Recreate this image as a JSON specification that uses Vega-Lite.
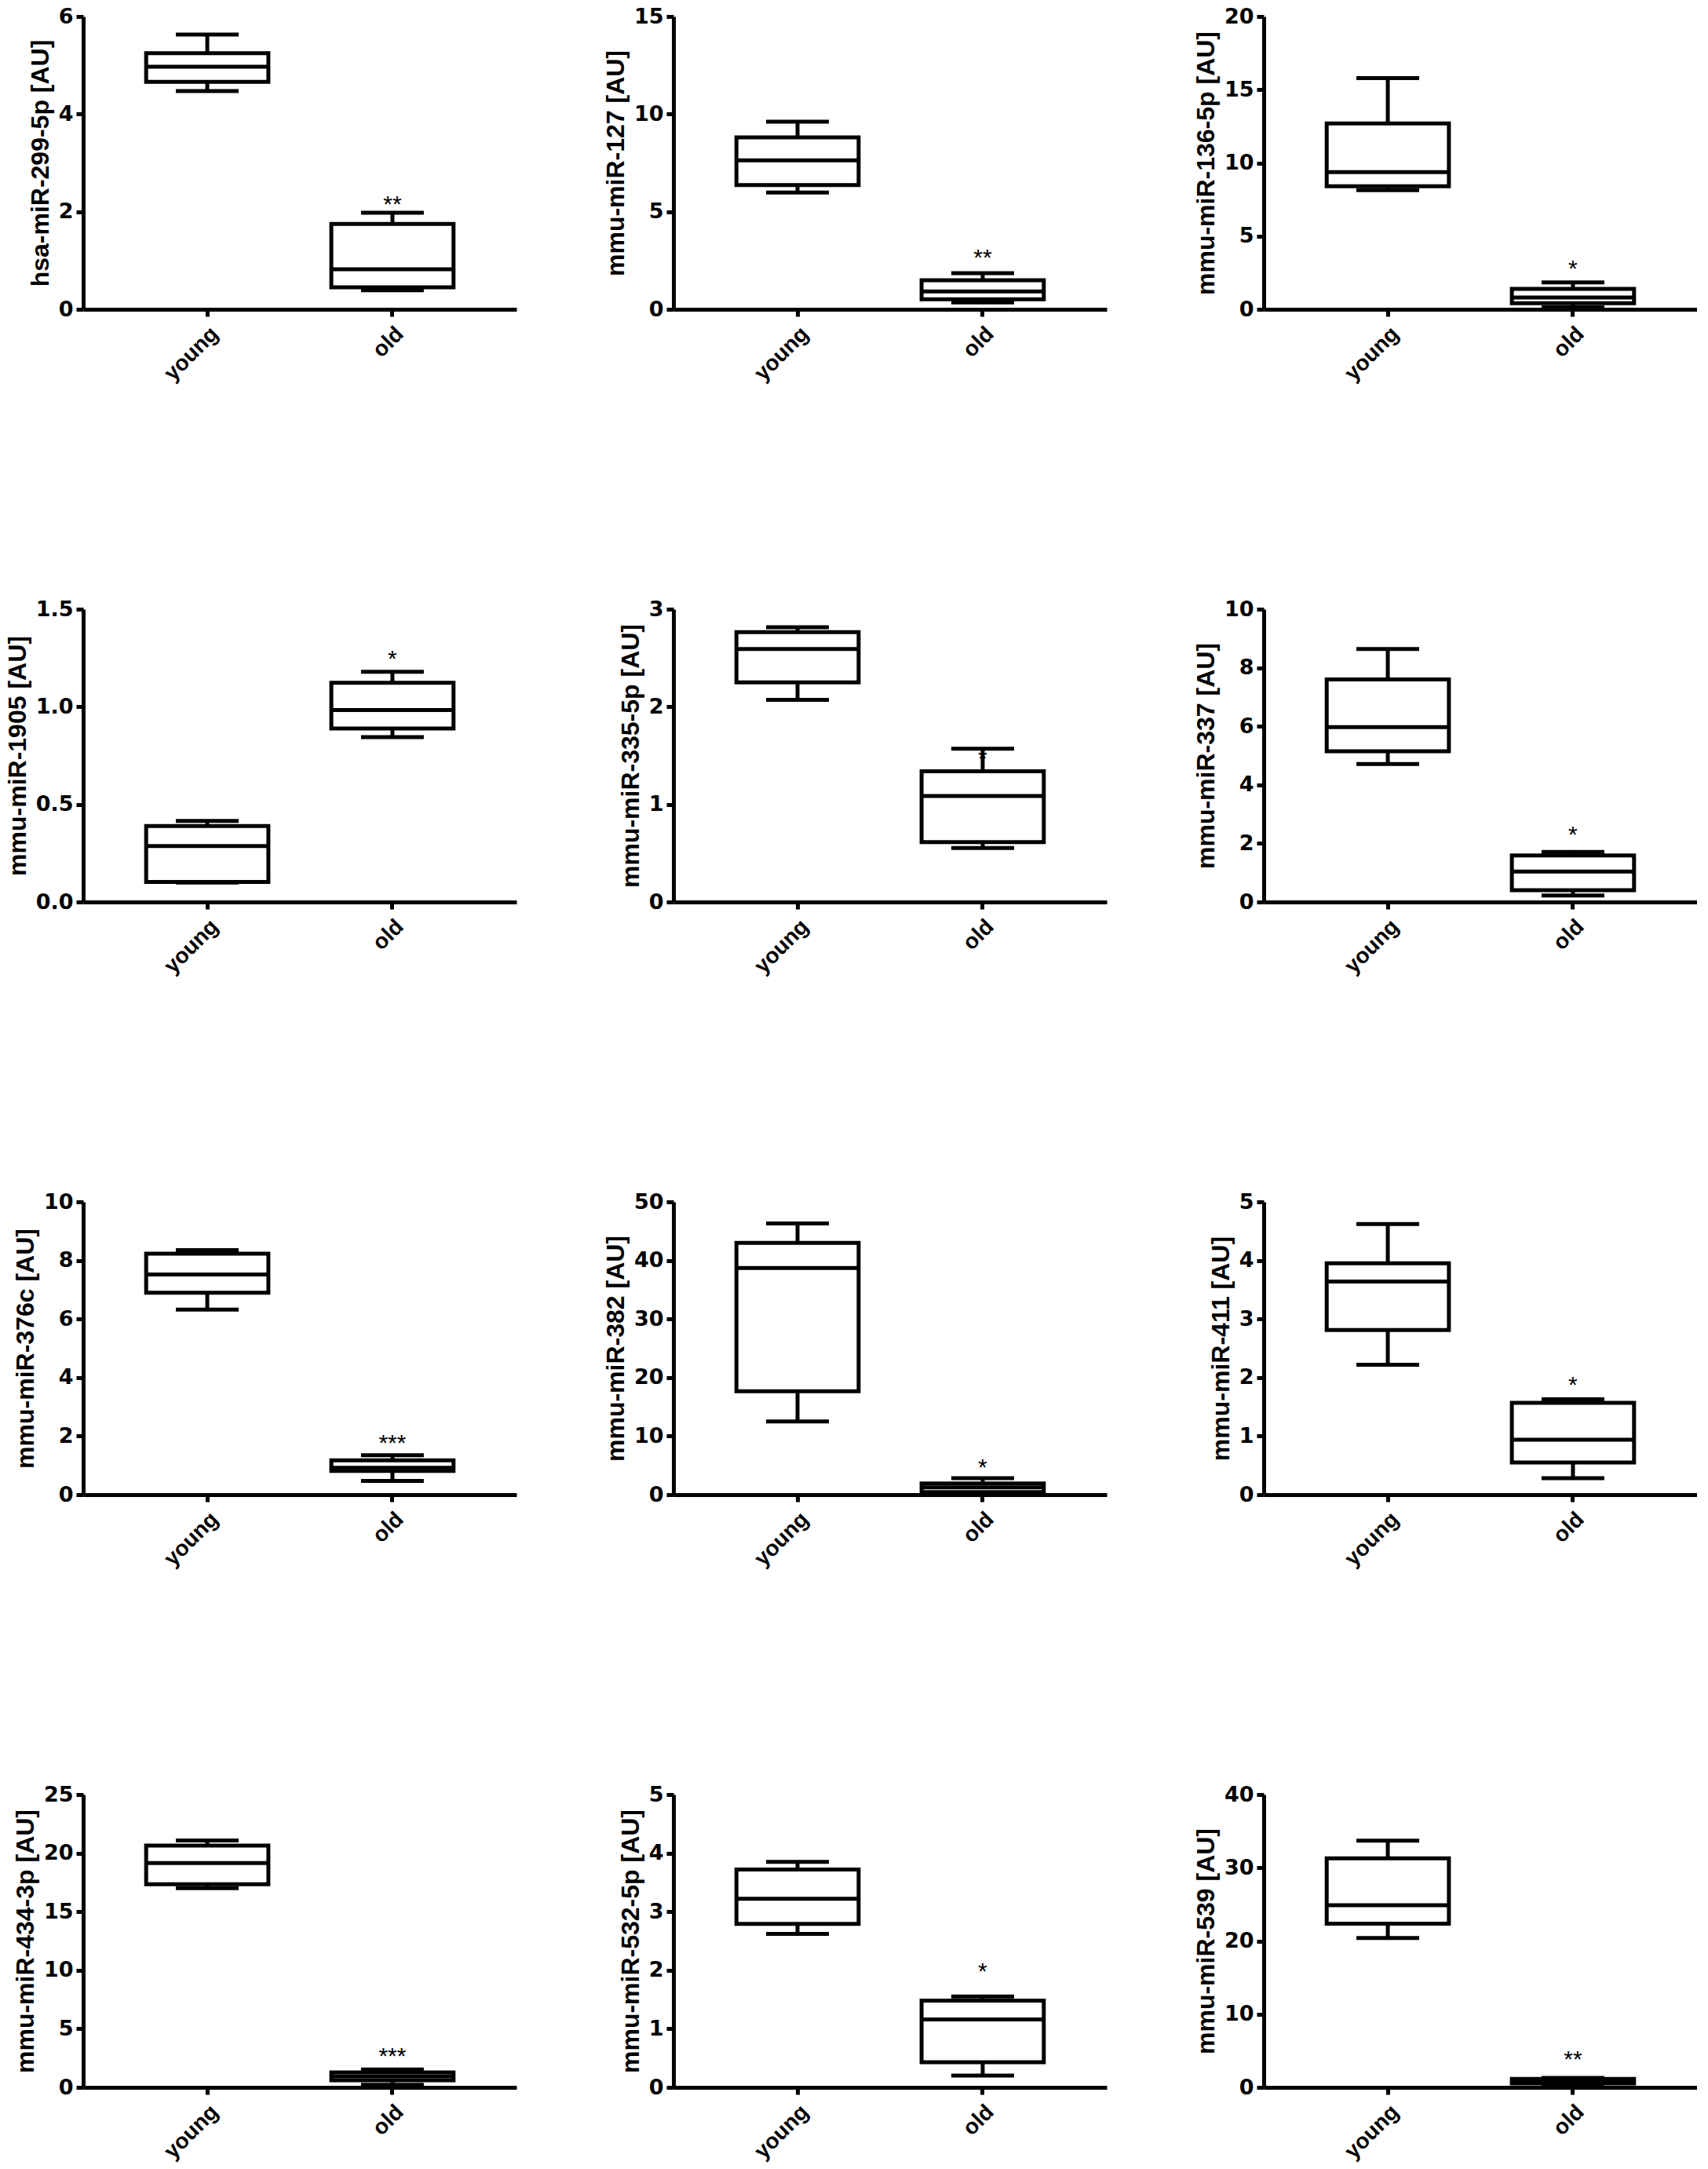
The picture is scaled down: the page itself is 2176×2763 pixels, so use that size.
{
  "$schema": "https://vega.github.io/schema/vega-lite/v6.json",
  "background": "white",
  "padding": {"left": 6, "top": 7, "right": 0, "bottom": 0},
  "data": {"values": [
    {"gene": "hsa-miR-299-5p", "group": "young", "min": 4.47, "q1": 4.66, "median": 4.97, "q3": 5.25, "max": 5.63, "sig": null, "sig_y": null},
    {"gene": "hsa-miR-299-5p", "group": "old", "min": 0.39, "q1": 0.45, "median": 0.82, "q3": 1.75, "max": 1.98, "sig": "**", "sig_y": 2.26},
    {"gene": "mmu-miR-127", "group": "young", "min": 5.98, "q1": 6.36, "median": 7.63, "q3": 8.81, "max": 9.61, "sig": null, "sig_y": null},
    {"gene": "mmu-miR-127", "group": "old", "min": 0.35, "q1": 0.51, "median": 0.91, "q3": 1.49, "max": 1.85, "sig": "**", "sig_y": 2.88},
    {"gene": "mmu-miR-136-5p", "group": "young", "min": 8.14, "q1": 8.40, "median": 9.37, "q3": 12.69, "max": 15.79, "sig": null, "sig_y": null},
    {"gene": "mmu-miR-136-5p", "group": "old", "min": 0.14, "q1": 0.41, "median": 0.80, "q3": 1.39, "max": 1.84, "sig": "*", "sig_y": 3.12},
    {"gene": "mmu-miR-1905", "group": "young", "min": 0.10, "q1": 0.103, "median": 0.287, "q3": 0.389, "max": 0.415, "sig": null, "sig_y": null},
    {"gene": "mmu-miR-1905", "group": "old", "min": 0.845, "q1": 0.889, "median": 0.983, "q3": 1.123, "max": 1.179, "sig": "*", "sig_y": 1.27},
    {"gene": "mmu-miR-335-5p", "group": "young", "min": 2.072, "q1": 2.251, "median": 2.592, "q3": 2.765, "max": 2.816, "sig": null, "sig_y": null},
    {"gene": "mmu-miR-335-5p", "group": "old", "min": 0.552, "q1": 0.613, "median": 1.085, "q3": 1.339, "max": 1.571, "sig": "*", "sig_y": 1.52},
    {"gene": "mmu-miR-337", "group": "young", "min": 4.71, "q1": 5.15, "median": 5.97, "q3": 7.60, "max": 8.64, "sig": null, "sig_y": null},
    {"gene": "mmu-miR-337", "group": "old", "min": 0.22, "q1": 0.40, "median": 1.04, "q3": 1.59, "max": 1.71, "sig": "*", "sig_y": 2.46},
    {"gene": "mmu-miR-376c", "group": "young", "min": 6.32, "q1": 6.90, "median": 7.52, "q3": 8.23, "max": 8.35, "sig": null, "sig_y": null},
    {"gene": "mmu-miR-376c", "group": "old", "min": 0.47, "q1": 0.81, "median": 0.92, "q3": 1.17, "max": 1.35, "sig": "***", "sig_y": 1.92},
    {"gene": "mmu-miR-382", "group": "young", "min": 12.49, "q1": 17.66, "median": 38.7, "q3": 43.0, "max": 46.3, "sig": null, "sig_y": null},
    {"gene": "mmu-miR-382", "group": "old", "min": 0.13, "q1": 0.45, "median": 1.25, "q3": 1.92, "max": 2.81, "sig": "*", "sig_y": 5.49},
    {"gene": "mmu-miR-411", "group": "young", "min": 2.22, "q1": 2.81, "median": 3.64, "q3": 3.95, "max": 4.62, "sig": null, "sig_y": null},
    {"gene": "mmu-miR-411", "group": "old", "min": 0.28, "q1": 0.55, "median": 0.94, "q3": 1.57, "max": 1.63, "sig": "*", "sig_y": 1.96},
    {"gene": "mmu-miR-434-3p", "group": "young", "min": 17.0, "q1": 17.34, "median": 19.16, "q3": 20.65, "max": 21.08, "sig": null, "sig_y": null},
    {"gene": "mmu-miR-434-3p", "group": "old", "min": 0.22, "q1": 0.60, "median": 0.94, "q3": 1.27, "max": 1.52, "sig": "***", "sig_y": 3.07},
    {"gene": "mmu-miR-532-5p", "group": "young", "min": 2.62, "q1": 2.79, "median": 3.22, "q3": 3.72, "max": 3.85, "sig": null, "sig_y": null},
    {"gene": "mmu-miR-532-5p", "group": "old", "min": 0.20, "q1": 0.43, "median": 1.16, "q3": 1.48, "max": 1.55, "sig": "*", "sig_y": 2.06},
    {"gene": "mmu-miR-539", "group": "young", "min": 20.39, "q1": 22.35, "median": 24.88, "q3": 31.30, "max": 33.69, "sig": null, "sig_y": null},
    {"gene": "mmu-miR-539", "group": "old", "min": 0.18, "q1": 0.53, "median": 0.71, "q3": 1.14, "max": 1.30, "sig": "**", "sig_y": 4.46}
  ]},
  "spacing": 271,
  "vconcat": [
    {"spacing": 200, "bounds": "flush", "hconcat": [
      {"width": 552, "height": 373, "transform": [{"filter": "datum.gene === 'hsa-miR-299-5p'"}],
       "encoding": {"x": {"field": "group", "type": "nominal", "sort": ["young", "old"], "scale": {"paddingInner": 0.34, "paddingOuter": 0.34}, "title": null}},
       "layer": [
        {"mark": {"type": "rule", "color": "black", "strokeWidth": 5}, "encoding": {"y": {"field": "min", "type": "quantitative", "scale": {"domain": [0, 6], "nice": false}, "axis": {"values": [0, 2, 4, 6], "format": "d"}, "title": "hsa-miR-299-5p [AU]"}, "y2": {"field": "max"}}},
        {"mark": {"type": "bar", "fill": "white", "stroke": "black", "strokeWidth": 5}, "encoding": {"y": {"field": "q1", "type": "quantitative"}, "y2": {"field": "q3"}}},
        {"mark": {"type": "tick", "color": "black", "opacity": 1, "thickness": 5, "size": 156}, "encoding": {"y": {"field": "median", "type": "quantitative"}}},
        {"mark": {"type": "tick", "color": "black", "opacity": 1, "thickness": 5, "size": 80}, "encoding": {"y": {"field": "min", "type": "quantitative"}}},
        {"mark": {"type": "tick", "color": "black", "opacity": 1, "thickness": 5, "size": 80}, "encoding": {"y": {"field": "max", "type": "quantitative"}}},
        {"transform": [{"filter": "datum.sig != null"}], "mark": {"type": "text", "color": "black", "fontSize": 30, "font": "Liberation Sans", "baseline": "middle", "dy": 7}, "encoding": {"y": {"field": "sig_y", "type": "quantitative"}, "text": {"field": "sig"}}}
       ]},
      {"width": 552, "height": 373, "transform": [{"filter": "datum.gene === 'mmu-miR-127'"}],
       "encoding": {"x": {"field": "group", "type": "nominal", "sort": ["young", "old"], "scale": {"paddingInner": 0.34, "paddingOuter": 0.34}, "title": null}},
       "layer": [
        {"mark": {"type": "rule", "color": "black", "strokeWidth": 5}, "encoding": {"y": {"field": "min", "type": "quantitative", "scale": {"domain": [0, 15], "nice": false}, "axis": {"values": [0, 5, 10, 15], "format": "d"}, "title": "mmu-miR-127 [AU]"}, "y2": {"field": "max"}}},
        {"mark": {"type": "bar", "fill": "white", "stroke": "black", "strokeWidth": 5}, "encoding": {"y": {"field": "q1", "type": "quantitative"}, "y2": {"field": "q3"}}},
        {"mark": {"type": "tick", "color": "black", "opacity": 1, "thickness": 5, "size": 156}, "encoding": {"y": {"field": "median", "type": "quantitative"}}},
        {"mark": {"type": "tick", "color": "black", "opacity": 1, "thickness": 5, "size": 80}, "encoding": {"y": {"field": "min", "type": "quantitative"}}},
        {"mark": {"type": "tick", "color": "black", "opacity": 1, "thickness": 5, "size": 80}, "encoding": {"y": {"field": "max", "type": "quantitative"}}},
        {"transform": [{"filter": "datum.sig != null"}], "mark": {"type": "text", "color": "black", "fontSize": 30, "font": "Liberation Sans", "baseline": "middle", "dy": 7}, "encoding": {"y": {"field": "sig_y", "type": "quantitative"}, "text": {"field": "sig"}}}
       ]},
      {"width": 552, "height": 373, "transform": [{"filter": "datum.gene === 'mmu-miR-136-5p'"}],
       "encoding": {"x": {"field": "group", "type": "nominal", "sort": ["young", "old"], "scale": {"paddingInner": 0.34, "paddingOuter": 0.34}, "title": null}},
       "layer": [
        {"mark": {"type": "rule", "color": "black", "strokeWidth": 5}, "encoding": {"y": {"field": "min", "type": "quantitative", "scale": {"domain": [0, 20], "nice": false}, "axis": {"values": [0, 5, 10, 15, 20], "format": "d"}, "title": "mmu-miR-136-5p [AU]"}, "y2": {"field": "max"}}},
        {"mark": {"type": "bar", "fill": "white", "stroke": "black", "strokeWidth": 5}, "encoding": {"y": {"field": "q1", "type": "quantitative"}, "y2": {"field": "q3"}}},
        {"mark": {"type": "tick", "color": "black", "opacity": 1, "thickness": 5, "size": 156}, "encoding": {"y": {"field": "median", "type": "quantitative"}}},
        {"mark": {"type": "tick", "color": "black", "opacity": 1, "thickness": 5, "size": 80}, "encoding": {"y": {"field": "min", "type": "quantitative"}}},
        {"mark": {"type": "tick", "color": "black", "opacity": 1, "thickness": 5, "size": 80}, "encoding": {"y": {"field": "max", "type": "quantitative"}}},
        {"transform": [{"filter": "datum.sig != null"}], "mark": {"type": "text", "color": "black", "fontSize": 30, "font": "Liberation Sans", "baseline": "middle", "dy": 7}, "encoding": {"y": {"field": "sig_y", "type": "quantitative"}, "text": {"field": "sig"}}}
       ]}
    ]},
    {"spacing": 200, "bounds": "flush", "hconcat": [
      {"width": 552, "height": 373, "transform": [{"filter": "datum.gene === 'mmu-miR-1905'"}],
       "encoding": {"x": {"field": "group", "type": "nominal", "sort": ["young", "old"], "scale": {"paddingInner": 0.34, "paddingOuter": 0.34}, "title": null}},
       "layer": [
        {"mark": {"type": "rule", "color": "black", "strokeWidth": 5}, "encoding": {"y": {"field": "min", "type": "quantitative", "scale": {"domain": [0, 1.5], "nice": false}, "axis": {"values": [0, 0.5, 1, 1.5], "format": ".1f"}, "title": "mmu-miR-1905 [AU]"}, "y2": {"field": "max"}}},
        {"mark": {"type": "bar", "fill": "white", "stroke": "black", "strokeWidth": 5}, "encoding": {"y": {"field": "q1", "type": "quantitative"}, "y2": {"field": "q3"}}},
        {"mark": {"type": "tick", "color": "black", "opacity": 1, "thickness": 5, "size": 156}, "encoding": {"y": {"field": "median", "type": "quantitative"}}},
        {"mark": {"type": "tick", "color": "black", "opacity": 1, "thickness": 5, "size": 80}, "encoding": {"y": {"field": "min", "type": "quantitative"}}},
        {"mark": {"type": "tick", "color": "black", "opacity": 1, "thickness": 5, "size": 80}, "encoding": {"y": {"field": "max", "type": "quantitative"}}},
        {"transform": [{"filter": "datum.sig != null"}], "mark": {"type": "text", "color": "black", "fontSize": 30, "font": "Liberation Sans", "baseline": "middle", "dy": 7}, "encoding": {"y": {"field": "sig_y", "type": "quantitative"}, "text": {"field": "sig"}}}
       ]},
      {"width": 552, "height": 373, "transform": [{"filter": "datum.gene === 'mmu-miR-335-5p'"}],
       "encoding": {"x": {"field": "group", "type": "nominal", "sort": ["young", "old"], "scale": {"paddingInner": 0.34, "paddingOuter": 0.34}, "title": null}},
       "layer": [
        {"mark": {"type": "rule", "color": "black", "strokeWidth": 5}, "encoding": {"y": {"field": "min", "type": "quantitative", "scale": {"domain": [0, 3], "nice": false}, "axis": {"values": [0, 1, 2, 3], "format": "d"}, "title": "mmu-miR-335-5p [AU]"}, "y2": {"field": "max"}}},
        {"mark": {"type": "bar", "fill": "white", "stroke": "black", "strokeWidth": 5}, "encoding": {"y": {"field": "q1", "type": "quantitative"}, "y2": {"field": "q3"}}},
        {"mark": {"type": "tick", "color": "black", "opacity": 1, "thickness": 5, "size": 156}, "encoding": {"y": {"field": "median", "type": "quantitative"}}},
        {"mark": {"type": "tick", "color": "black", "opacity": 1, "thickness": 5, "size": 80}, "encoding": {"y": {"field": "min", "type": "quantitative"}}},
        {"mark": {"type": "tick", "color": "black", "opacity": 1, "thickness": 5, "size": 80}, "encoding": {"y": {"field": "max", "type": "quantitative"}}},
        {"transform": [{"filter": "datum.sig != null"}], "mark": {"type": "text", "color": "black", "fontSize": 30, "font": "Liberation Sans", "baseline": "middle", "dy": 7}, "encoding": {"y": {"field": "sig_y", "type": "quantitative"}, "text": {"field": "sig"}}}
       ]},
      {"width": 552, "height": 373, "transform": [{"filter": "datum.gene === 'mmu-miR-337'"}],
       "encoding": {"x": {"field": "group", "type": "nominal", "sort": ["young", "old"], "scale": {"paddingInner": 0.34, "paddingOuter": 0.34}, "title": null}},
       "layer": [
        {"mark": {"type": "rule", "color": "black", "strokeWidth": 5}, "encoding": {"y": {"field": "min", "type": "quantitative", "scale": {"domain": [0, 10], "nice": false}, "axis": {"values": [0, 2, 4, 6, 8, 10], "format": "d"}, "title": "mmu-miR-337 [AU]"}, "y2": {"field": "max"}}},
        {"mark": {"type": "bar", "fill": "white", "stroke": "black", "strokeWidth": 5}, "encoding": {"y": {"field": "q1", "type": "quantitative"}, "y2": {"field": "q3"}}},
        {"mark": {"type": "tick", "color": "black", "opacity": 1, "thickness": 5, "size": 156}, "encoding": {"y": {"field": "median", "type": "quantitative"}}},
        {"mark": {"type": "tick", "color": "black", "opacity": 1, "thickness": 5, "size": 80}, "encoding": {"y": {"field": "min", "type": "quantitative"}}},
        {"mark": {"type": "tick", "color": "black", "opacity": 1, "thickness": 5, "size": 80}, "encoding": {"y": {"field": "max", "type": "quantitative"}}},
        {"transform": [{"filter": "datum.sig != null"}], "mark": {"type": "text", "color": "black", "fontSize": 30, "font": "Liberation Sans", "baseline": "middle", "dy": 7}, "encoding": {"y": {"field": "sig_y", "type": "quantitative"}, "text": {"field": "sig"}}}
       ]}
    ]},
    {"spacing": 200, "bounds": "flush", "hconcat": [
      {"width": 552, "height": 373, "transform": [{"filter": "datum.gene === 'mmu-miR-376c'"}],
       "encoding": {"x": {"field": "group", "type": "nominal", "sort": ["young", "old"], "scale": {"paddingInner": 0.34, "paddingOuter": 0.34}, "title": null}},
       "layer": [
        {"mark": {"type": "rule", "color": "black", "strokeWidth": 5}, "encoding": {"y": {"field": "min", "type": "quantitative", "scale": {"domain": [0, 10], "nice": false}, "axis": {"values": [0, 2, 4, 6, 8, 10], "format": "d"}, "title": "mmu-miR-376c [AU]"}, "y2": {"field": "max"}}},
        {"mark": {"type": "bar", "fill": "white", "stroke": "black", "strokeWidth": 5}, "encoding": {"y": {"field": "q1", "type": "quantitative"}, "y2": {"field": "q3"}}},
        {"mark": {"type": "tick", "color": "black", "opacity": 1, "thickness": 5, "size": 156}, "encoding": {"y": {"field": "median", "type": "quantitative"}}},
        {"mark": {"type": "tick", "color": "black", "opacity": 1, "thickness": 5, "size": 80}, "encoding": {"y": {"field": "min", "type": "quantitative"}}},
        {"mark": {"type": "tick", "color": "black", "opacity": 1, "thickness": 5, "size": 80}, "encoding": {"y": {"field": "max", "type": "quantitative"}}},
        {"transform": [{"filter": "datum.sig != null"}], "mark": {"type": "text", "color": "black", "fontSize": 30, "font": "Liberation Sans", "baseline": "middle", "dy": 7}, "encoding": {"y": {"field": "sig_y", "type": "quantitative"}, "text": {"field": "sig"}}}
       ]},
      {"width": 552, "height": 373, "transform": [{"filter": "datum.gene === 'mmu-miR-382'"}],
       "encoding": {"x": {"field": "group", "type": "nominal", "sort": ["young", "old"], "scale": {"paddingInner": 0.34, "paddingOuter": 0.34}, "title": null}},
       "layer": [
        {"mark": {"type": "rule", "color": "black", "strokeWidth": 5}, "encoding": {"y": {"field": "min", "type": "quantitative", "scale": {"domain": [0, 50], "nice": false}, "axis": {"values": [0, 10, 20, 30, 40, 50], "format": "d"}, "title": "mmu-miR-382 [AU]"}, "y2": {"field": "max"}}},
        {"mark": {"type": "bar", "fill": "white", "stroke": "black", "strokeWidth": 5}, "encoding": {"y": {"field": "q1", "type": "quantitative"}, "y2": {"field": "q3"}}},
        {"mark": {"type": "tick", "color": "black", "opacity": 1, "thickness": 5, "size": 156}, "encoding": {"y": {"field": "median", "type": "quantitative"}}},
        {"mark": {"type": "tick", "color": "black", "opacity": 1, "thickness": 5, "size": 80}, "encoding": {"y": {"field": "min", "type": "quantitative"}}},
        {"mark": {"type": "tick", "color": "black", "opacity": 1, "thickness": 5, "size": 80}, "encoding": {"y": {"field": "max", "type": "quantitative"}}},
        {"transform": [{"filter": "datum.sig != null"}], "mark": {"type": "text", "color": "black", "fontSize": 30, "font": "Liberation Sans", "baseline": "middle", "dy": 7}, "encoding": {"y": {"field": "sig_y", "type": "quantitative"}, "text": {"field": "sig"}}}
       ]},
      {"width": 552, "height": 373, "transform": [{"filter": "datum.gene === 'mmu-miR-411'"}],
       "encoding": {"x": {"field": "group", "type": "nominal", "sort": ["young", "old"], "scale": {"paddingInner": 0.34, "paddingOuter": 0.34}, "title": null}},
       "layer": [
        {"mark": {"type": "rule", "color": "black", "strokeWidth": 5}, "encoding": {"y": {"field": "min", "type": "quantitative", "scale": {"domain": [0, 5], "nice": false}, "axis": {"values": [0, 1, 2, 3, 4, 5], "format": "d"}, "title": "mmu-miR-411 [AU]"}, "y2": {"field": "max"}}},
        {"mark": {"type": "bar", "fill": "white", "stroke": "black", "strokeWidth": 5}, "encoding": {"y": {"field": "q1", "type": "quantitative"}, "y2": {"field": "q3"}}},
        {"mark": {"type": "tick", "color": "black", "opacity": 1, "thickness": 5, "size": 156}, "encoding": {"y": {"field": "median", "type": "quantitative"}}},
        {"mark": {"type": "tick", "color": "black", "opacity": 1, "thickness": 5, "size": 80}, "encoding": {"y": {"field": "min", "type": "quantitative"}}},
        {"mark": {"type": "tick", "color": "black", "opacity": 1, "thickness": 5, "size": 80}, "encoding": {"y": {"field": "max", "type": "quantitative"}}},
        {"transform": [{"filter": "datum.sig != null"}], "mark": {"type": "text", "color": "black", "fontSize": 30, "font": "Liberation Sans", "baseline": "middle", "dy": 7}, "encoding": {"y": {"field": "sig_y", "type": "quantitative"}, "text": {"field": "sig"}}}
       ]}
    ]},
    {"spacing": 200, "bounds": "flush", "hconcat": [
      {"width": 552, "height": 373, "transform": [{"filter": "datum.gene === 'mmu-miR-434-3p'"}],
       "encoding": {"x": {"field": "group", "type": "nominal", "sort": ["young", "old"], "scale": {"paddingInner": 0.34, "paddingOuter": 0.34}, "title": null}},
       "layer": [
        {"mark": {"type": "rule", "color": "black", "strokeWidth": 5}, "encoding": {"y": {"field": "min", "type": "quantitative", "scale": {"domain": [0, 25], "nice": false}, "axis": {"values": [0, 5, 10, 15, 20, 25], "format": "d"}, "title": "mmu-miR-434-3p [AU]"}, "y2": {"field": "max"}}},
        {"mark": {"type": "bar", "fill": "white", "stroke": "black", "strokeWidth": 5}, "encoding": {"y": {"field": "q1", "type": "quantitative"}, "y2": {"field": "q3"}}},
        {"mark": {"type": "tick", "color": "black", "opacity": 1, "thickness": 5, "size": 156}, "encoding": {"y": {"field": "median", "type": "quantitative"}}},
        {"mark": {"type": "tick", "color": "black", "opacity": 1, "thickness": 5, "size": 80}, "encoding": {"y": {"field": "min", "type": "quantitative"}}},
        {"mark": {"type": "tick", "color": "black", "opacity": 1, "thickness": 5, "size": 80}, "encoding": {"y": {"field": "max", "type": "quantitative"}}},
        {"transform": [{"filter": "datum.sig != null"}], "mark": {"type": "text", "color": "black", "fontSize": 30, "font": "Liberation Sans", "baseline": "middle", "dy": 7}, "encoding": {"y": {"field": "sig_y", "type": "quantitative"}, "text": {"field": "sig"}}}
       ]},
      {"width": 552, "height": 373, "transform": [{"filter": "datum.gene === 'mmu-miR-532-5p'"}],
       "encoding": {"x": {"field": "group", "type": "nominal", "sort": ["young", "old"], "scale": {"paddingInner": 0.34, "paddingOuter": 0.34}, "title": null}},
       "layer": [
        {"mark": {"type": "rule", "color": "black", "strokeWidth": 5}, "encoding": {"y": {"field": "min", "type": "quantitative", "scale": {"domain": [0, 5], "nice": false}, "axis": {"values": [0, 1, 2, 3, 4, 5], "format": "d"}, "title": "mmu-miR-532-5p [AU]"}, "y2": {"field": "max"}}},
        {"mark": {"type": "bar", "fill": "white", "stroke": "black", "strokeWidth": 5}, "encoding": {"y": {"field": "q1", "type": "quantitative"}, "y2": {"field": "q3"}}},
        {"mark": {"type": "tick", "color": "black", "opacity": 1, "thickness": 5, "size": 156}, "encoding": {"y": {"field": "median", "type": "quantitative"}}},
        {"mark": {"type": "tick", "color": "black", "opacity": 1, "thickness": 5, "size": 80}, "encoding": {"y": {"field": "min", "type": "quantitative"}}},
        {"mark": {"type": "tick", "color": "black", "opacity": 1, "thickness": 5, "size": 80}, "encoding": {"y": {"field": "max", "type": "quantitative"}}},
        {"transform": [{"filter": "datum.sig != null"}], "mark": {"type": "text", "color": "black", "fontSize": 30, "font": "Liberation Sans", "baseline": "middle", "dy": 7}, "encoding": {"y": {"field": "sig_y", "type": "quantitative"}, "text": {"field": "sig"}}}
       ]},
      {"width": 552, "height": 373, "transform": [{"filter": "datum.gene === 'mmu-miR-539'"}],
       "encoding": {"x": {"field": "group", "type": "nominal", "sort": ["young", "old"], "scale": {"paddingInner": 0.34, "paddingOuter": 0.34}, "title": null}},
       "layer": [
        {"mark": {"type": "rule", "color": "black", "strokeWidth": 5}, "encoding": {"y": {"field": "min", "type": "quantitative", "scale": {"domain": [0, 40], "nice": false}, "axis": {"values": [0, 10, 20, 30, 40], "format": "d"}, "title": "mmu-miR-539 [AU]"}, "y2": {"field": "max"}}},
        {"mark": {"type": "bar", "fill": "white", "stroke": "black", "strokeWidth": 5}, "encoding": {"y": {"field": "q1", "type": "quantitative"}, "y2": {"field": "q3"}}},
        {"mark": {"type": "tick", "color": "black", "opacity": 1, "thickness": 5, "size": 156}, "encoding": {"y": {"field": "median", "type": "quantitative"}}},
        {"mark": {"type": "tick", "color": "black", "opacity": 1, "thickness": 5, "size": 80}, "encoding": {"y": {"field": "min", "type": "quantitative"}}},
        {"mark": {"type": "tick", "color": "black", "opacity": 1, "thickness": 5, "size": 80}, "encoding": {"y": {"field": "max", "type": "quantitative"}}},
        {"transform": [{"filter": "datum.sig != null"}], "mark": {"type": "text", "color": "black", "fontSize": 30, "font": "Liberation Sans", "baseline": "middle", "dy": 7}, "encoding": {"y": {"field": "sig_y", "type": "quantitative"}, "text": {"field": "sig"}}}
       ]}
    ]}
  ],
  "config": {
    "view": {"stroke": null},
    "axis": {"grid": false, "domainColor": "black", "domainWidth": 5, "tickColor": "black", "tickWidth": 5, "tickSize": 9, "labelColor": "black", "titleColor": "black", "labelFont": "Liberation Sans", "labelFontWeight": "bold", "titleFont": "Liberation Sans", "titleFontWeight": "bold"},
    "axisY": {"labelFont": "DejaVu Sans", "labelFontSize": 27, "titleFontSize": 32, "titlePadding": 6, "labelPadding": 4},
    "axisX": {"labelFontSize": 28, "labelAngle": -45, "labelPadding": 8}
  }
}
